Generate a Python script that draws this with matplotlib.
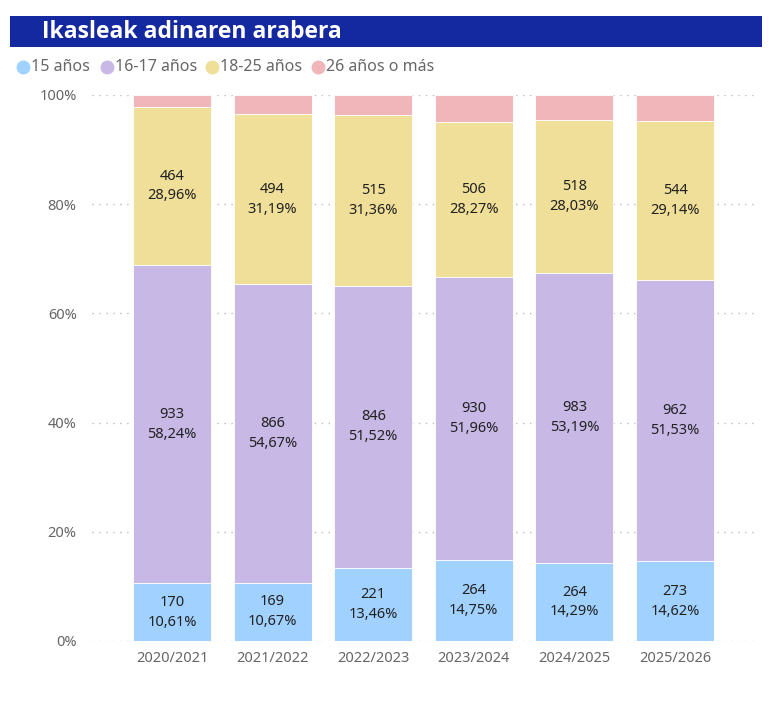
import numpy as np
import matplotlib.pyplot as plt
from matplotlib.patches import Rectangle
from matplotlib.lines import Line2D

plt.rcParams['font.family'] = ['Noto Sans', 'DejaVu Sans']

# data
years = ['2020/2021', '2021/2022', '2022/2023', '2023/2024', '2024/2025', '2025/2026']
series_names = ['15 años', '16-17 años', '18-25 años', '26 años o más']
n_15 = [170, 169, 221, 264, 264, 273]
n_16_17 = [933, 866, 846, 930, 983, 962]
n_18_25 = [464, 494, 515, 506, 518, 544]
n_26 = [35, 55, 60, 90, 83, 88]
colors = ['#A0D1FF', '#C8B8E6', '#EFDF98', '#F0B6B9']

counts = np.array([n_15, n_16_17, n_18_25, n_26], dtype=float)
totals = counts.sum(axis=0)
shares = counts / totals

fig = plt.figure(figsize=(7.77, 7.02), dpi=100)

# title banner
fig.patches.append(Rectangle((10 / 777, 1 - 47 / 702), 752 / 777, 31 / 702,
                             transform=fig.transFigure, facecolor='#1428A0',
                             edgecolor='none', zorder=0))
fig.text(42 / 777, 1 - 32 / 702, 'Ikasleak adinaren arabera', color='white',
         fontsize=16.5, fontweight='bold', family=['Open Sans', 'DejaVu Sans'],
         va='center', ha='left')

# legend
leg_x = [23, 107, 212, 318]
for x, name, c in zip(leg_x, series_names, colors):
    fig.lines.append(Line2D([x / 777], [1 - 67 / 702], transform=fig.transFigure,
                            marker='o', markersize=9, color=c, linestyle='none'))
    fig.text((x + 8) / 777, 1 - 67 / 702, name, color='#666666', fontsize=11.5,
             va='center', ha='left')

ax = fig.add_axes([92 / 777, 1 - 641 / 702, 665 / 777, 546 / 702])
x = np.arange(len(years))
bottom = np.zeros(len(years))
for i in range(4):
    ax.bar(x, shares[i], width=0.775, bottom=bottom, color=colors[i],
           edgecolor='white', linewidth=0.6, zorder=2)
    if i < 3:
        for j in range(len(years)):
            ax.text(x[j], bottom[j] + shares[i][j] / 2,
                    f'{int(counts[i][j])}\n{shares[i][j] * 100:.2f}%'.replace('.', ','),
                    ha='center', va='center', fontsize=10.5, color='#222222',
                    linespacing=1.45, zorder=3)
    bottom += shares[i]

ax.set_xlim(-0.795, 5.815)
ax.set_ylim(0, 1)
ax.set_yticks(np.arange(0, 1.01, 0.2))
ax.set_yticklabels([f'{int(v * 100)}%' for v in np.arange(0, 1.01, 0.2)])
ax.set_xticks(x)
ax.set_xticklabels(years)
ax.tick_params(length=0, labelsize=10.5, labelcolor='#666666')
ax.tick_params(axis='y', pad=11)
ax.tick_params(axis='x', pad=7)
ax.grid(axis='y', linestyle=(0, (1, 4)), color='#BBBBBB', linewidth=1, zorder=1)
for s in ax.spines.values():
    s.set_visible(False)

plt.savefig('out.png', dpi=100)
